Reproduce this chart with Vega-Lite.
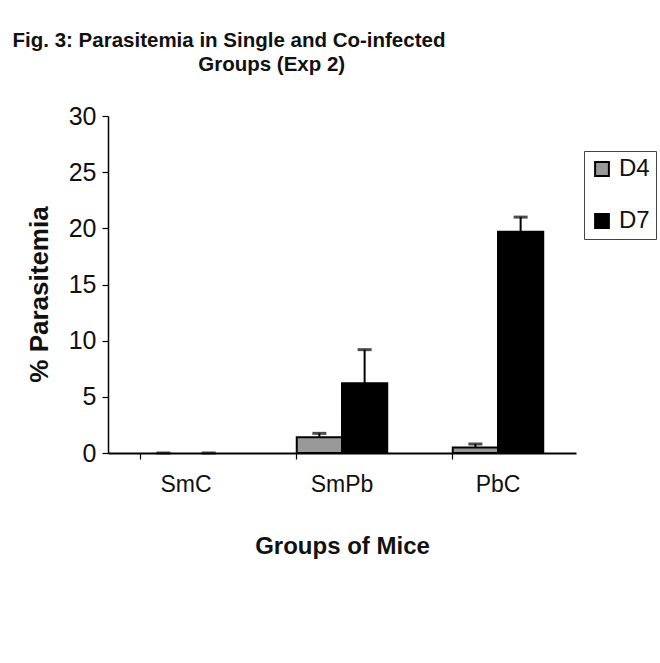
{
  "$schema": "https://vega.github.io/schema/vega-lite/v6.json",
  "width": 468,
  "height": 337,
  "autosize": "none",
  "padding": {"left": 108, "top": 116, "right": 84, "bottom": 210},
  "background": "white",
  "title": {
    "text": "Fig. 3: Parasitemia in Single and Co-infected",
    "subtitle": "\u200b\u00a0\u00a0\u00a0\u00a0\u00a0\u00a0\u00a0\u00a0\u00a0\u00a0\u00a0\u00a0\u00a0\u00a0\u00a0Groups (Exp 2)",
    "anchor": "middle",
    "frame": "group",
    "dx": -113,
    "font": "Liberation Sans",
    "fontSize": 20.5,
    "fontWeight": "bold",
    "color": "#111",
    "subtitleFont": "Liberation Sans",
    "subtitleFontSize": 20.5,
    "subtitleFontWeight": "bold",
    "subtitleColor": "#111",
    "subtitlePadding": 3,
    "offset": 29
  },
  "data": {
    "values": [
      {"group": "SmC", "day": "D4", "value": 0, "hi": 0},
      {"group": "SmC", "day": "D7", "value": 0, "hi": 0},
      {"group": "SmPb", "day": "D4", "value": 1.4, "hi": 1.75},
      {"group": "SmPb", "day": "D7", "value": 6.2, "hi": 9.2},
      {"group": "PbC", "day": "D4", "value": 0.5, "hi": 0.8},
      {"group": "PbC", "day": "D7", "value": 19.7, "hi": 21.0}
    ]
  },
  "encoding": {
    "x": {
      "field": "group",
      "type": "nominal",
      "sort": ["SmC", "SmPb", "PbC"],
      "scale": {"paddingInner": 0.42, "paddingOuter": 0.21},
      "axis": {
        "title": "Groups of Mice",
        "labelAngle": 0,
        "labelFont": "Liberation Sans",
        "labelFontSize": 23,
        "labelColor": "#111",
        "labelPadding": 14,
        "titleFont": "Liberation Sans",
        "titleFontSize": 24,
        "titleFontWeight": "bold",
        "titleColor": "#111",
        "titlePadding": 38,
        "domainColor": "#000",
        "domainWidth": 2,
        "tickColor": "#000",
        "tickSize": 6,
        "tickWidth": 1.2,
        "bandPosition": 0,
        "grid": false,
        "zindex": 1
      }
    },
    "xOffset": {"field": "day", "type": "nominal", "sort": ["D4", "D7"]}
  },
  "layer": [
    {
      "transform": [{"filter": "datum.value > 0"}],
      "mark": {"type": "bar", "stroke": "#000", "strokeWidth": 2},
      "encoding": {
        "y": {
          "field": "value",
          "type": "quantitative",
          "scale": {"domain": [0, 30], "nice": false},
          "axis": {
            "title": "% Parasitemia",
            "values": [0, 5, 10, 15, 20, 25, 30],
            "labelFont": "Liberation Sans",
            "labelFontSize": 25,
            "labelColor": "#111",
            "labelPadding": 6,
            "titleFont": "Liberation Sans",
            "titleFontSize": 26,
            "titleFontWeight": "bold",
            "titleColor": "#111",
            "titlePadding": 16,
            "titleY": 178,
            "domainColor": "#000",
            "domainWidth": 1.5,
            "tickColor": "#000",
            "tickSize": 6,
            "tickWidth": 1.2,
            "grid": false
          }
        },
        "fill": {
          "field": "day",
          "type": "nominal",
          "scale": {"domain": ["D4", "D7"], "range": ["#999999", "#000000"]},
          "legend": {
            "title": null,
            "orient": "none",
            "legendX": 476,
            "legendY": 35,
            "symbolType": "square",
            "symbolSize": 190,
            "symbolStrokeColor": "#000",
            "symbolStrokeWidth": 2,
            "labelFont": "Liberation Sans",
            "labelFontSize": 24,
            "labelColor": "#111",
            "labelOffset": 5,
            "rowPadding": 28,
            "strokeColor": "#444",
            "padding": 6
          }
        }
      }
    },
    {
      "mark": {"type": "rule", "color": "#000", "strokeWidth": 2},
      "encoding": {
        "y": {"field": "value", "type": "quantitative"},
        "y2": {"field": "hi"}
      }
    },
    {
      "mark": {"type": "tick", "color": "#000", "thickness": 3, "size": 14},
      "encoding": {
        "y": {"field": "hi", "type": "quantitative"}
      }
    }
  ],
  "config": {
    "view": {"stroke": null}
  }
}
